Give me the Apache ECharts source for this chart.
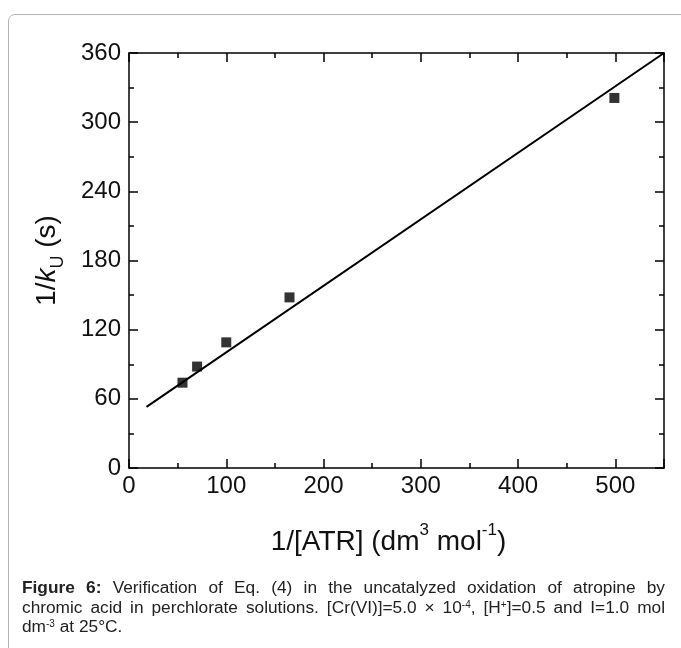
<!DOCTYPE html>
<html>
<head>
<meta charset="utf-8">
<script src="https://cdn.jsdelivr.net/npm/echarts@6/dist/echarts.min.js"></script>
<style>
  html, body { margin:0; padding:0; background:#fff; }
  #wrap { position:relative; width:681px; height:648px; overflow:hidden; }
  #card { position:absolute; left:8px; top:14px; width:720px; height:700px; border:1px solid #b4b4b4; border-radius:7px; box-sizing:border-box; }
  #chart { position:absolute; left:0; top:0; width:681px; height:648px; }
  #caption { position:absolute; left:22px; top:578px; width:643px; font-family:'Liberation Sans', Arial, sans-serif; font-size:17.3px; line-height:19.5px; color:#222; }
  #caption .j { text-align:justify; text-align-last:justify; white-space:nowrap; }
  #caption .j, #caption .l { display:block; }
  #caption .j { white-space:normal; }
  #caption sup { font-size:10px; line-height:0; vertical-align:5px; }
</style>
</head>
<body>
<div id="wrap">
  <div id="card"></div>
  <div id="chart"></div>
  <div id="caption"><span class="j"><b>Figure 6:</b> Verification of Eq. (4) in the uncatalyzed oxidation of atropine by</span><span class="j">chromic acid in perchlorate solutions. [Cr(VI)]=5.0 × 10<sup>-4</sup>, [H<sup>+</sup>]=0.5 and I=1.0 mol</span><span class="l">dm<sup>-3</sup> at 25°C.</span></div>
</div>
<script>
// Data
const invATR = [55, 70, 100, 165, 499];       // 1/[ATR] (dm3 mol-1)
const invKu  = [74, 88, 109, 148, 321];       // 1/kU (s)
const fitX   = [18, 550];                     // fitted line endpoints
const fitY   = [53, 360];
const xTicks = [0, 100, 200, 300, 400, 500];
const yTicks = [0, 60, 120, 180, 240, 300, 360];

const tickFont = "'Liberation Sans', Arial, sans-serif";
const titleFont = "'Liberation Sans', Arial, sans-serif";

const chart = echarts.init(document.getElementById('chart'), null, {renderer:'canvas'});
const axisLine = { show:true, onZero:false, lineStyle:{ color:'#000', width:1.5 } };
const tick = { show:true, inside:true, length:9, lineStyle:{ color:'#000', width:1.5 } };
const minor = { show:true, splitNumber:2, length:5, lineStyle:{ color:'#000', width:1.5 } };

chart.setOption({
  animation:false,
  grid:{ left:129, top:53, right:17, bottom:180, containLabel:false },
  xAxis:[{
    type:'value', min:0, max:550, interval:100, position:'bottom',
    axisLine, axisTick:tick, minorTick:minor, splitLine:{show:false},
    axisLabel:{ color:'#111', fontSize:24, fontFamily:tickFont, margin:6,
      formatter:v => xTicks.includes(v) ? String(v) : '' },
    name:'{n|1/[ATR] (dm}{sup|3}{n| mol}{sup|-1}{n|)}', nameLocation:'middle', nameGap:54,
    nameTextStyle:{ rich:{
      n:{ fontSize:28, fontFamily:titleFont, color:'#111', verticalAlign:'bottom', lineHeight:34 },
      sup:{ fontSize:17, fontFamily:titleFont, color:'#111', verticalAlign:'top', lineHeight:34, padding:[0,0,14,0] }
    }, padding:[0,16,0,0] }
  },{
    type:'value', min:0, max:550, interval:100, position:'top',
    axisLine, axisTick:tick, minorTick:minor, splitLine:{show:false}, axisLabel:{show:false}
  }],
  yAxis:[{
    type:'value', min:0, max:360, interval:60, position:'left',
    axisLine, axisTick:tick, minorTick:minor, splitLine:{show:false},
    axisLabel:{ color:'#111', fontSize:24, fontFamily:tickFont, margin:8,
      formatter:v => yTicks.includes(v) ? String(v) : '' },
    name:'{n|1/}{i|k}{sub|U}{n| (s)}', nameLocation:'middle', nameGap:62, nameRotate:90,
    nameTextStyle:{ rich:{
      n:{ fontSize:28, fontFamily:titleFont, color:'#111', lineHeight:34, verticalAlign:'top' },
      i:{ fontSize:28, fontFamily:titleFont, fontStyle:'italic', color:'#111', lineHeight:34, verticalAlign:'top' },
      sub:{ fontSize:18, fontFamily:titleFont, color:'#111', lineHeight:34, verticalAlign:'bottom' }
    }}
  },{
    type:'value', min:0, max:360, interval:60, position:'right',
    axisLine, axisTick:tick, minorTick:minor, splitLine:{show:false}, axisLabel:{show:false}
  }],
  series:[{
    type:'line', data:fitX.map((x,i)=>[x, fitY[i]]), showSymbol:false, symbol:'none',
    lineStyle:{ color:'#000', width:2 }, z:2, silent:true
  },{
    type:'scatter', data:invATR.map((x,i)=>[x, invKu[i]]), symbol:'rect', symbolSize:10,
    itemStyle:{ color:'#000' }, z:3
  }]
});
</script>
</body>
</html>
